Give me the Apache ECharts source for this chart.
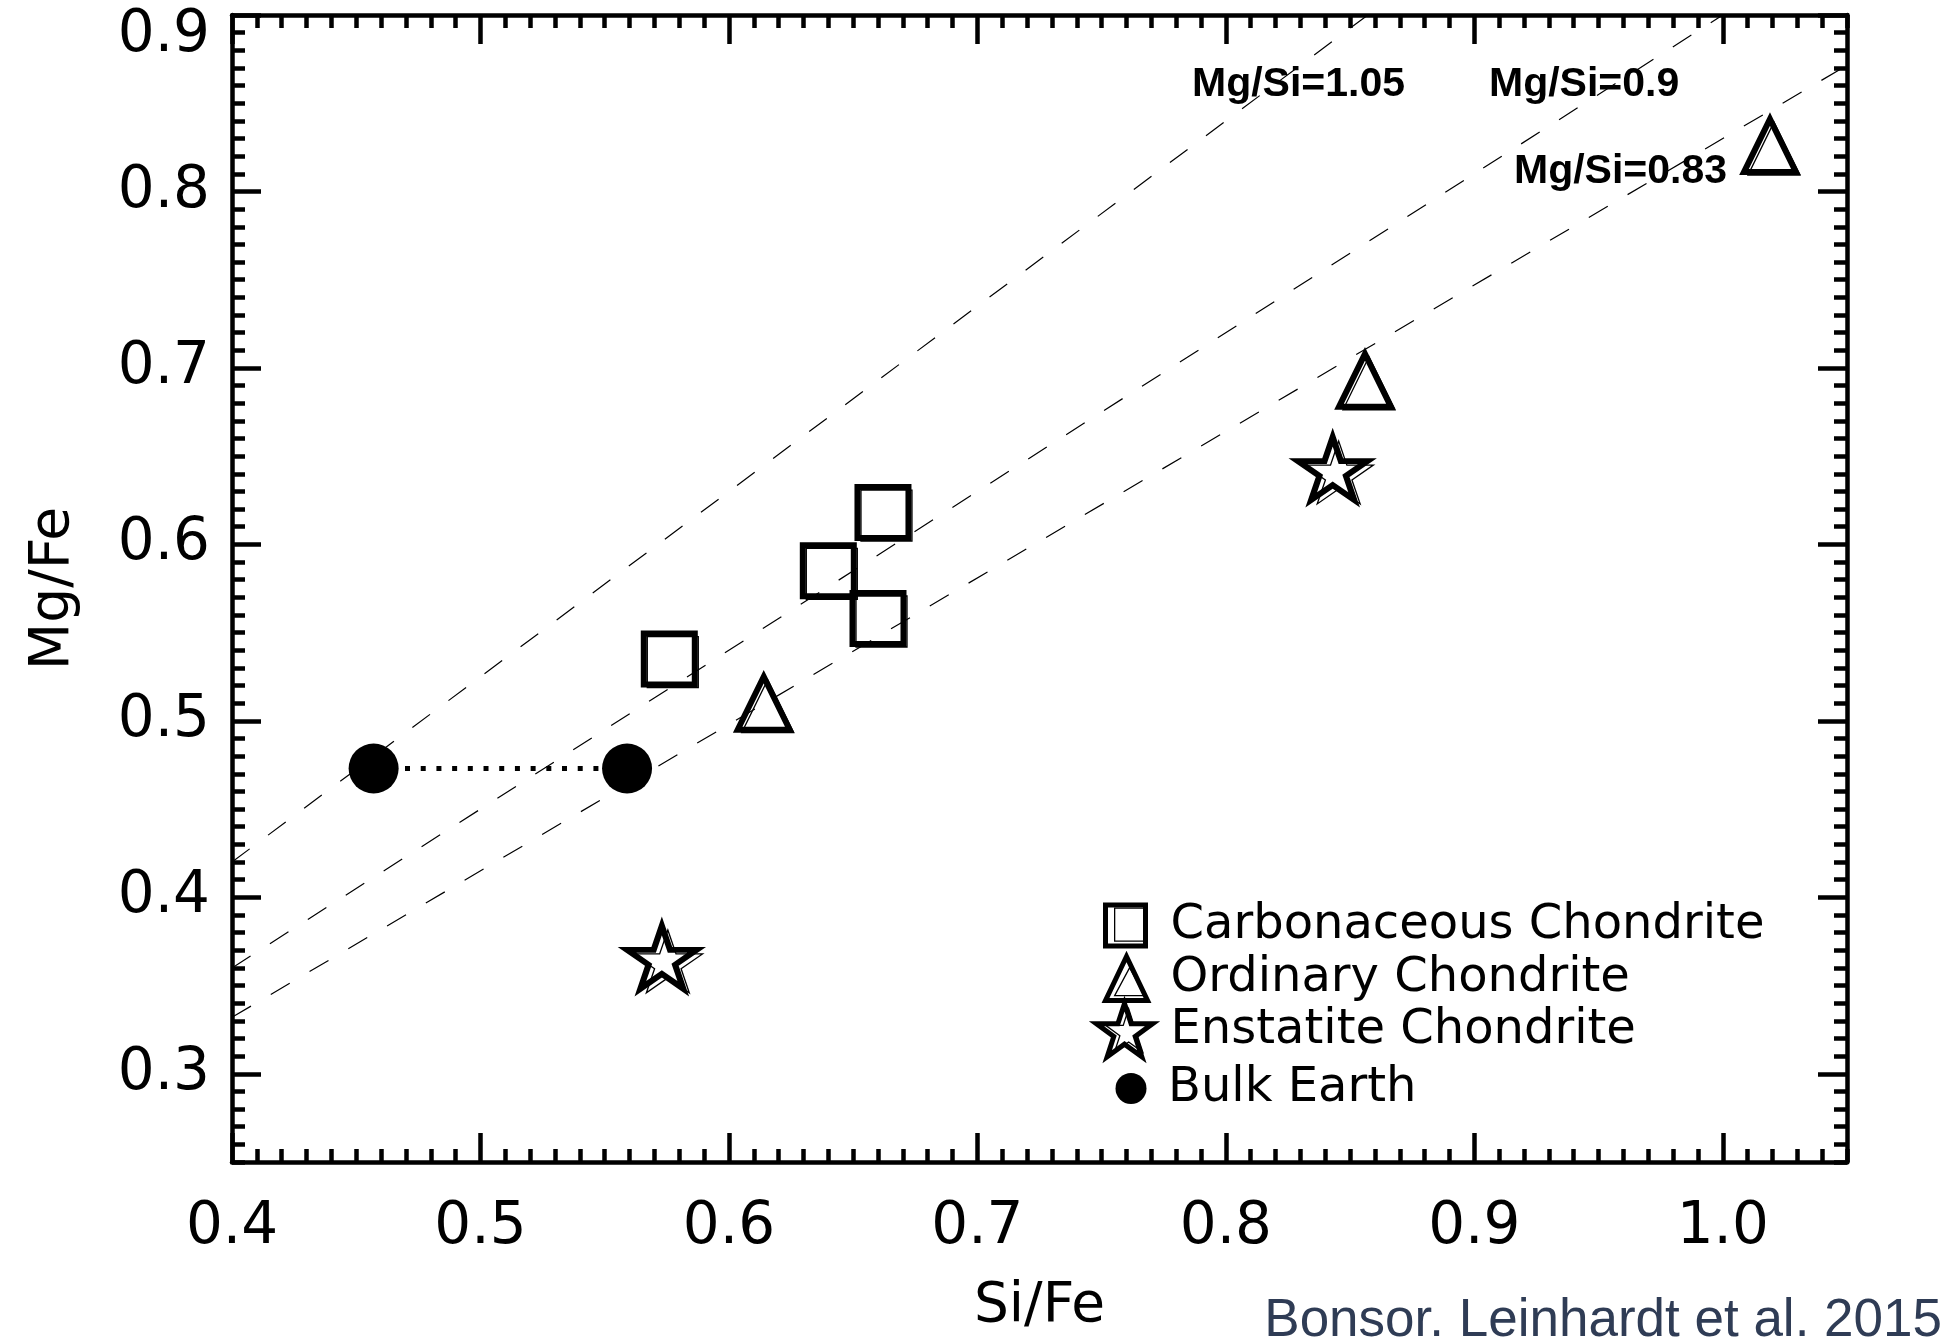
<!DOCTYPE html>
<html>
<head>
<meta charset="utf-8">
<script src="https://cdn.jsdelivr.net/npm/echarts@6/dist/echarts.min.js"></script>
<style>
  html, body { margin: 0; padding: 0; background: #fff; }
  #chart { width: 1948px; height: 1338px; }
</style>
</head>
<body>
<div id="chart"></div>
<script>
// Si/Fe and Mg/Fe ratios for each meteorite class and for the bulk Earth
const carbonaceous = [[0.576, 0.535], [0.640, 0.585], [0.662, 0.618], [0.660, 0.558]];
const ordinary = [[0.614, 0.510], [0.856, 0.693], [1.019, 0.826]];
const enstatite = [[0.573, 0.364], [0.843, 0.641]];
const bulkEarth = [[0.457, 0.473], [0.559, 0.473]];

// Lines of constant Mg/Si (Mg/Fe = ratio * Si/Fe)
const mgSiRatios = [1.05, 0.9, 0.83];

// Axis extents and tick labels
const siFeRange = [0.4, 1.05];
const mgFeRange = [0.25, 0.9];
const xTickValues = [0.4, 0.5, 0.6, 0.7, 0.8, 0.9, 1.0];
const xTickLabels = ['0.4', '0.5', '0.6', '0.7', '0.8', '0.9', '1.0'];
const yTickValues = [0.3, 0.4, 0.5, 0.6, 0.7, 0.8, 0.9];
const yTickLabels = ['0.3', '0.4', '0.5', '0.6', '0.7', '0.8', '0.9'];
const minorStep = 0.01;

const FONT = '"DejaVu Sans", sans-serif';
const STAR = 'path://M50,0L61.227,34.548L97.553,34.549L68.165,55.902L79.389,90.451L50,69.1L20.611,90.451L31.835,55.902L2.447,34.549L38.773,34.548Z';
const AXIS_W = 4.5;

function labelFor(values, labels, v) {
  const i = values.findIndex(t => Math.abs(t - v) < 1e-9);
  return i < 0 ? '' : labels[i];
}

function majorAxis(position, range, values, extra) {
  return Object.assign({
    type: 'value', position: position, min: range[0], max: range[1],
    axisLine: { show: true, onZero: false, lineStyle: { color: '#000', width: AXIS_W } },
    axisTick: { show: true, inside: true, length: 29, customValues: values,
                lineStyle: { color: '#000', width: AXIS_W } },
    axisLabel: { show: false },
    splitLine: { show: false },
    minorTick: { show: false },
    nameMoveOverlap: false
  }, extra || {});
}

function minorAxis(position, range) {
  return {
    type: 'value', position: position, min: range[0], max: range[1], interval: minorStep,
    axisLine: { show: false, onZero: false },
    axisTick: { show: true, inside: true, length: 13, lineStyle: { color: '#000', width: AXIS_W } },
    axisLabel: { show: false },
    splitLine: { show: false },
    minorTick: { show: false }
  };
}

const tickFont = { color: '#000', fontFamily: FONT, fontSize: 58 };

const xAxes = [
  majorAxis('bottom', siFeRange, xTickValues, {
    axisLabel: Object.assign({ show: true, customValues: xTickValues, margin: 37,
      formatter: v => labelFor(xTickValues, xTickLabels, v) }, tickFont),
    name: 'Si/Fe', nameLocation: 'middle', nameGap: 117,
    nameTextStyle: { color: '#000', fontFamily: FONT, fontSize: 55 }
  }),
  minorAxis('bottom', siFeRange),
  majorAxis('top', siFeRange, xTickValues),
  minorAxis('top', siFeRange)
];

const yAxes = [
  majorAxis('left', mgFeRange, yTickValues, {
    axisLabel: Object.assign({ show: true, customValues: yTickValues, margin: 22,
      formatter: v => {
        const s = labelFor(yTickValues, yTickLabels, v);
        return s === yTickLabels[yTickLabels.length - 1] ? '{top|' + s + '}' : s;
      },
      rich: { top: Object.assign({ padding: [42, 0, 0, 0] }, tickFont) } }, tickFont),
    name: 'Mg/Fe', nameLocation: 'middle', nameGap: 151, nameRotate: 90,
    nameTextStyle: { color: '#000', fontFamily: FONT, fontSize: 55 }
  }),
  minorAxis('left', mgFeRange),
  majorAxis('right', mgFeRange, yTickValues),
  minorAxis('right', mgFeRange)
];

const hollow = w => ({ color: 'rgba(0,0,0,0)', borderColor: '#000', borderWidth: w,
                       borderJoin: 'miter', borderMiterLimit: 10, opacity: 1 });
const solid = { color: '#000', borderWidth: 0, opacity: 1 };

const series = [];

// dashed lines of constant Mg/Si
mgSiRatios.forEach(k => {
  series.push({
    name: 'Mg/Si=' + k, type: 'line', silent: true, z: 1, clip: true,
    symbol: 'none',
    data: siFeRange.map(x => [x, x * k]),
    lineStyle: { color: '#000', width: 1.2, type: [22, 23], opacity: 1 }
  });
});

// dotted connector between the two bulk Earth estimates
series.push({
  name: 'Bulk Earth range', type: 'line', silent: true, z: 2, symbol: 'none',
  data: bulkEarth,
  lineStyle: { color: '#000', width: 5, type: [5, 10.7], cap: 'butt', opacity: 1 }
});

// thin echo outlines of the hollow markers
series.push(
  { name: 'Carbonaceous outline', type: 'scatter', z: 3, data: carbonaceous,
    symbol: 'rect', symbolSize: 51, symbolOffset: [3.5, 3], itemStyle: hollow(1.3) },
  { name: 'Ordinary outline', type: 'scatter', z: 3, data: ordinary,
    symbol: 'triangle', symbolSize: [52, 53], symbolOffset: [4, 3], itemStyle: hollow(1.3) },
  { name: 'Enstatite outline', type: 'scatter', z: 3, data: enstatite,
    symbol: STAR, symbolKeepAspect: true, symbolSize: [69.4, 66], symbolOffset: [6, 0.5],
    itemStyle: hollow(1.3) }
);

// main markers
series.push(
  { name: 'Carbonaceous Chondrite', type: 'scatter', z: 4, data: carbonaceous,
    symbol: 'rect', symbolSize: 51, itemStyle: hollow(6) },
  { name: 'Ordinary Chondrite', type: 'scatter', z: 4, data: ordinary,
    symbol: 'triangle', symbolSize: [52, 53], itemStyle: hollow(6) },
  { name: 'Enstatite Chondrite', type: 'scatter', z: 4, data: enstatite,
    symbol: STAR, symbolKeepAspect: true, symbolSize: [69.4, 66], symbolOffset: [0, -3.5],
    itemStyle: hollow(6) },
  { name: 'Bulk Earth', type: 'scatter', z: 5, data: bulkEarth,
    symbol: 'circle', symbolSize: 50, itemStyle: solid }
);

// one legend per row so each key symbol keeps its own size
function keyRow(name, icon, cx, cy, w, h, style) {
  const left = cx - w / 2;
  return {
    show: true, orient: 'horizontal', left: left, top: cy - h / 2,
    padding: 0, itemGap: 0, itemWidth: w, itemHeight: h,
    selectedMode: false, symbolKeepAspect: true,
    data: [{ name: name, icon: icon }],
    itemStyle: style,
    textStyle: { color: '#000', fontFamily: FONT, fontSize: 48, lineHeight: 20,
                 padding: [0, 0, 0, 1168 - left - w - 5] }
  };
}
function keyEcho(name, icon, cx, cy, w, h) {
  return {
    show: true, orient: 'horizontal', left: cx - w / 2, top: cy - h / 2,
    padding: 0, itemGap: 0, itemWidth: w, itemHeight: h,
    selectedMode: false, symbolKeepAspect: true,
    data: [{ name: name, icon: icon }],
    formatter: () => '',
    itemStyle: hollow(1.3),
    textStyle: { fontSize: 1, lineHeight: 1 }
  };
}

const legends = [
  keyEcho('Carbonaceous outline', 'rect', 1130, 924, 32, 33),
  keyEcho('Ordinary outline', 'triangle', 1129, 981, 30, 28),
  keyEcho('Enstatite outline', STAR, 1128, 1030, 46, 44),
  keyRow('Carbonaceous Chondrite', 'rect', 1123, 922, 40, 41, hollow(5)),
  keyRow('Ordinary Chondrite', 'triangle', 1124, 976, 42, 44, hollow(5)),
  keyRow('Enstatite Chondrite', STAR, 1122, 1028, 56, 54, hollow(5)),
  keyRow('Bulk Earth', 'circle', 1131, 1080, 31, 31, solid)
];

const ratioFont = 'bold 41px "Liberation Sans", Arial, sans-serif';
const graphics = [
  { type: 'text', x: 1192, y: 85, z: 10,
    style: { text: 'Mg/Si=' + mgSiRatios[0], font: ratioFont, fill: '#000', align: 'left', verticalAlign: 'middle' } },
  { type: 'text', x: 1489, y: 85, z: 10,
    style: { text: 'Mg/Si=' + mgSiRatios[1], font: ratioFont, fill: '#000', align: 'left', verticalAlign: 'middle' } },
  { type: 'text', x: 1514, y: 172, z: 10,
    style: { text: 'Mg/Si=' + mgSiRatios[2], font: ratioFont, fill: '#000', align: 'left', verticalAlign: 'middle' } },
  { type: 'text', x: 1942, y: 1321, z: 10,
    style: { text: 'Bonsor. Leinhardt et al. 2015', font: '53px "Liberation Sans", Arial, sans-serif',
             fill: '#2f3c55', align: 'right', verticalAlign: 'middle' } }
];

const chart = echarts.init(document.getElementById('chart'), null, { renderer: 'canvas', width: 1948, height: 1338 });
chart.setOption({
  animation: false,
  backgroundColor: '#fff',
  grid: { left: 232, right: 101, top: 15, bottom: 176, containLabel: false, outerBoundsMode: 'none' },
  xAxis: xAxes,
  yAxis: yAxes,
  legend: legends,
  graphic: graphics,
  series: series
});
</script>
</body>
</html>
